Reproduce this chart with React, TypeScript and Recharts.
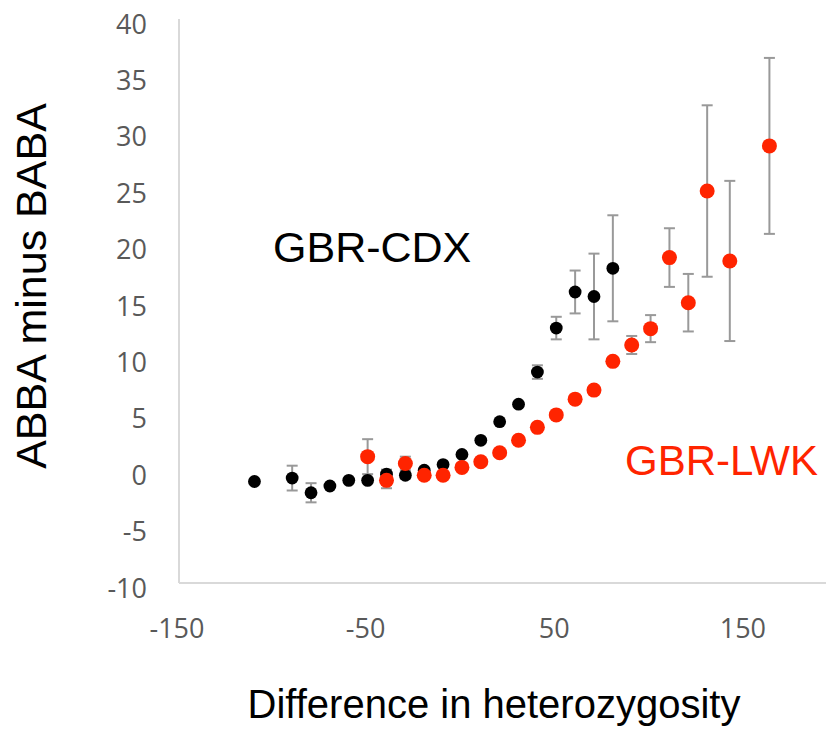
import React from 'react';
import { ScatterChart, Scatter, XAxis, YAxis, ErrorBar } from 'recharts';

// GBR-CDX (black)
const cdxX = [-110, -90, -80, -70, -60, -50, -40, -30, -20, -10, 0, 10, 20, 30, 40, 50, 60, 70, 80];
const cdxY = [-1.0, -0.7, -2.0, -1.4, -0.9, -0.9, -0.35, -0.45, 0.0, 0.5, 1.4, 2.65, 4.3, 5.85, 8.7, 12.6, 15.8, 15.4, 17.9];
const cdxErr = [0, 1.1, 0.85, 0, 0, 0, 0.4, 0.3, 0, 0, 0, 0, 0, 0, 0.6, 1.0, 1.9, 3.8, 4.7];

// GBR-LWK (red)
const lwkX = [-50, -40, -30, -20, -10, 0, 10, 20, 30, 40, 50, 60, 70, 80, 90, 100, 110, 120, 130, 142, 163];
const lwkY = [1.2, -0.9, 0.6, -0.45, -0.45, 0.25, 0.75, 1.55, 2.65, 3.8, 4.9, 6.3, 7.1, 9.65, 11.1, 12.55, 18.85, 14.85, 24.75, 18.55, 28.75];
const lwkErr = [1.55, 0.7, 0.6, 0, 0, 0, 0, 0, 0, 0, 0, 0, 0, 0, 0.8, 1.2, 2.6, 2.55, 7.6, 7.1, 7.8];

const xTicks = [-150, -50, 50, 150];
const yTicks = [-10, -5, 0, 5, 10, 15, 20, 25, 30, 35, 40];

const RED = '#ff2400';
const AXIS = '#d9d9d9';
const TICK = '#595959';
const TICK_FONT = '"Open Sans", sans-serif';
const TITLE_FONT = '"Liberation Sans", Arial, sans-serif';

const cdxData = cdxX.map((x, i) => ({ x, y: cdxY[i], err: cdxErr[i] }));
const lwkData = lwkX.map((x, i) => ({ x, y: lwkY[i], err: lwkErr[i] }));

const dot = (r: number, fill: string) => (props: any) =>
  <circle cx={props.cx} cy={props.cy} r={r} fill={fill} />;

const YTick = (props: any) => {
  const { x, y, payload } = props;
  return (
    <text x={x - 24} y={y + 4} textAnchor="end" dominantBaseline="central"
      fontSize={27} fontFamily={TICK_FONT} fill={TICK}>
      {payload.value}
    </text>
  );
};

const XTick = (props: any) => {
  const { x, y, payload } = props;
  return (
    <text x={x - 2} y={y + 36} textAnchor="middle" dominantBaseline="central"
      fontSize={27} fontFamily={TICK_FONT} fill={TICK}>
      {payload.value}
    </text>
  );
};

export default function App() {
  return (
    <div style={{ position: 'absolute', left: 0, top: 0, width: 826, height: 729, background: '#fff' }}>
      <ScatterChart width={826} height={729} margin={{ top: 19, right: 0, bottom: 0, left: 0 }}>
        <XAxis
          type="number"
          dataKey="x"
          domain={[-150, 193]}
          ticks={xTicks}
          height={146}
          axisLine={{ stroke: AXIS, strokeWidth: 2 }}
          tickLine={false}
          tick={<XTick />}
          allowDataOverflow
        />
        <YAxis
          type="number"
          dataKey="y"
          domain={[-10, 40]}
          ticks={yTicks}
          width={179}
          axisLine={{ stroke: AXIS, strokeWidth: 2 }}
          tickLine={false}
          tick={<YTick />}
        />
        <Scatter data={cdxData} shape={dot(6.4, '#000')} isAnimationActive={false}>
          <ErrorBar dataKey="err" direction="y" width={5.5} stroke="#999" strokeWidth={2} />
        </Scatter>
        <Scatter data={lwkData} shape={dot(7.5, RED)} isAnimationActive={false}>
          <ErrorBar dataKey="err" direction="y" width={5.5} stroke="#999" strokeWidth={2} />
        </Scatter>
      </ScatterChart>
      <svg width={826} height={729} style={{ position: 'absolute', left: 0, top: 0, pointerEvents: 'none' }}>
        <text x={273} y={262} fontSize={43} fontFamily={TITLE_FONT} fill="#000">GBR-CDX</text>
        <text x={625} y={475} fontSize={42} fontFamily={TITLE_FONT} fill={RED}>GBR-LWK</text>
        <text x={494} y={718} textAnchor="middle" fontSize={40} fontFamily={TITLE_FONT} fill="#000">
          Difference in heterozygosity
        </text>
        <text x={46} y={286} textAnchor="middle" fontSize={43} fontFamily={TITLE_FONT} fill="#000"
          transform="rotate(-90 46 286)">
          ABBA minus BABA
        </text>
      </svg>
    </div>
  );
}
